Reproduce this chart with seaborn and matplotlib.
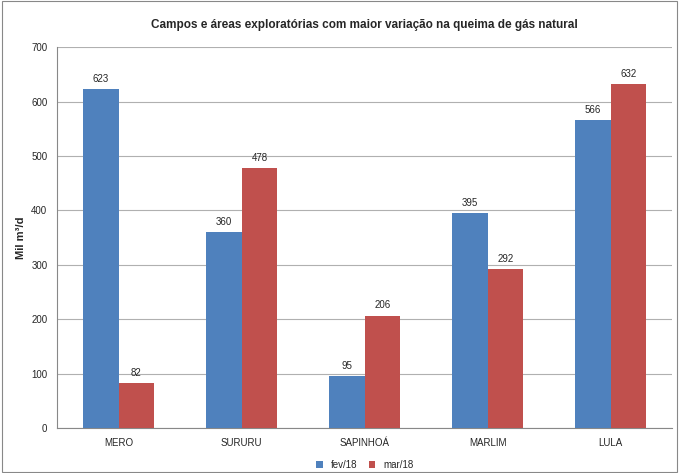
import matplotlib
matplotlib.use("Agg")
import matplotlib.pyplot as plt
import pandas as pd
import seaborn as sns

campos = ["MERO", "SURURU", "SAPINHOÁ", "MARLIM", "LULA"]
fev18 = [623, 360, 95, 395, 566]
mar18 = [82, 478, 206, 292, 632]

df = pd.DataFrame({"campo": campos * 2,
                   "mes": ["fev/18"] * 5 + ["mar/18"] * 5,
                   "valor": fev18 + mar18})

sns.set_style("white")
plt.rcParams["font.family"] = ["Liberation Sans", "DejaVu Sans"]

fig = plt.figure(figsize=(6.79, 4.73), dpi=100)
ax = fig.add_axes([0.084, 0.095, 0.906, 0.805])
sns.barplot(data=df, x="campo", y="valor", hue="mes", palette=["#4F81BD", "#C0504D"],
            width=0.58, saturation=1, linewidth=0, ax=ax, zorder=3)
for c in ax.containers:
    ax.bar_label(c, fontsize=7, padding=4)

ax.set_ylim(0, 700)
ax.set_yticks(range(0, 701, 100))
ax.yaxis.grid(True, color="#b0b0b0", linewidth=0.8)
ax.set_xlabel("")
ax.set_ylabel("Mil m³/d", fontsize=8, fontweight="bold")
ax.tick_params(labelsize=7)
for s in ["top", "right"]:
    ax.spines[s].set_visible(False)
for s in ["left", "bottom"]:
    ax.spines[s].set_color("#888888")
ax.set_title("Campos e áreas exploratórias com maior variação na queima de gás natural",
             fontsize=8.5, fontweight="bold", pad=14)
ax.legend(loc="upper center", bbox_to_anchor=(0.5, -0.06), ncol=2, frameon=False,
          fontsize=7, handlelength=0.7, handleheight=0.7, columnspacing=1.2)
fig.patches.append(plt.Rectangle((0.003, 0.003), 0.994, 0.994, transform=fig.transFigure,
                                 fill=False, edgecolor="#888888", linewidth=0.8))
fig.savefig("out.png", dpi=100)
